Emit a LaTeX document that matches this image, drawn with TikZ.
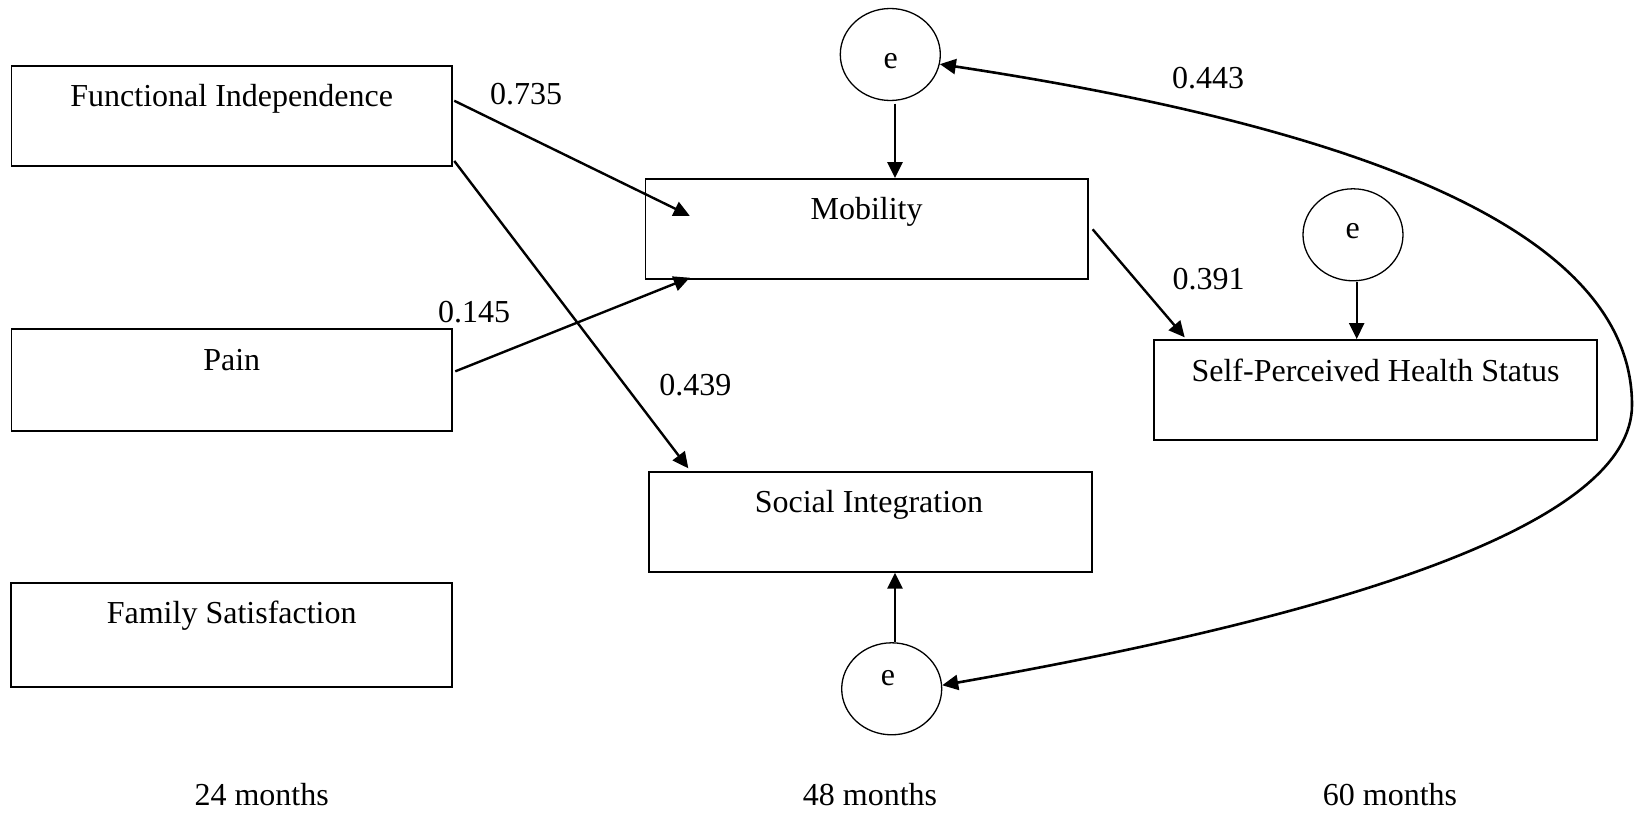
\documentclass[tikz,border=0pt]{standalone}
\usepackage{fontspec}
\setmainfont{Liberation Serif}
\usetikzlibrary{arrows.meta,shapes.geometric,calc}
\begin{document}
\begin{tikzpicture}[x=0.5pt,y=-0.5pt]
\tikzset{
  box/.style={draw, line width=0.95pt, rectangle, inner sep=0pt},
  err/.style={draw, ellipse, line width=0.65pt, minimum width=50pt, minimum height=46pt, inner sep=0pt},
  txt/.style={font=\fontsize{16pt}{19pt}\selectfont, inner sep=0pt, anchor=base},
  conn/.style={line width=1.2pt, -{Triangle[length=8pt,width=7.5pt]}},
  cov/.style={line width=1.3pt, {Triangle[length=8pt,width=7.5pt]}-{Triangle[length=8pt,width=7.5pt]}},
}
\useasboundingbox (0,0) rectangle (1635,813);

% boxes
\node[box, minimum width=220.25pt, minimum height=50pt] (fi) at (231.75,116) {};
\node[box, minimum width=220.25pt, minimum height=51pt] (pain) at (231.75,380) {};
\node[box, minimum width=220.65pt, minimum height=52pt] (fs) at (231.7,634.8) {};
\node[box, minimum width=221.1pt, minimum height=50.15pt] (mob) at (866.6,229.2) {};
\node[box, minimum width=221.2pt, minimum height=50pt] (si) at (870.5,521.7) {};
\node[box, minimum width=221.35pt, minimum height=50pt] (sphs) at (1375.35,390) {};

% box texts
\node[txt] (fit) at (231.7,107) {Functional Independence};
\node[txt] (paint) at (231.7,370) {Pain};
\node[txt] (fst) at (231.7,623.3) {Family Satisfaction};
\node[txt] (mobt) at (866.6,220) {Mobility};
\node[txt] (sit) at (869,512.5) {Social Integration};
\node[txt] (sphst) at (1375.5,381) {Self-Perceived Health Status};

% error terms
\node[err] (e1) at (890.3,54.5) {};
\node[err] (e2) at (1353,234.8) {};
\node[err] (e3) at (891.7,688.8) {};
\node[txt] (e1t) at (890.7,68.3) {e};
\node[txt] (e2t) at (1352.7,239) {e};
\node[txt] (e3t) at (888,685.7) {e};

% paths
\draw[conn] ($(fi.north east)+(1.3,35.7)$) -- ($(mob.north west)+(45.2,37.7)$);
\draw[conn] ($(fi.south east)+(1.3,-6)$) -- ($(si.north west)+(40,-2.4)$);
\draw[conn] ($(pain.north east)+(2.3,43.3)$) -- ($(mob.south west)+(45.2,-2.6)$);
\draw[conn] ($(mob.east)+(4,0.1)$) -- ($(sphs.north west)+(31.7,-1.7)$);

\coordinate (s1) at ($(e1.south)+(4.7,2.5)$);
\coordinate (s2) at ($(e2.south)+(3.7,1)$);
\coordinate (s3) at ($(e3.north)+(3.3,0)$);
\draw[conn] (s1) -- (s1 |- mob.north);
\draw[conn] (s2) -- (s2 |- sphs.north);
\draw[conn] (s3) -- (s3 |- si.south);

\draw[cov] (e1.-11.5) .. controls (1341.7,125) and (1632,225) .. (1632,405)
  .. controls (1632,525) and (1341.7,614.9) .. (e3.4);

% coefficients
\node[txt] (c1) at (526,104.3) {0.735};
\node[txt] (c2) at (474,322.3) {0.145};
\node[txt] (c3) at (695.3,395) {0.439};
\node[txt] (c4) at (1208.5,289.3) {0.391};
\node[txt] (c5) at (1208,88.3) {0.443};

% time labels
\node[txt] (t1) at (261.7,805) {24 months};
\node[txt] (t2) at (870,805.7) {48 months};
\node[txt] (t3) at (1390,805) {60 months};
\end{tikzpicture}
\end{document}
